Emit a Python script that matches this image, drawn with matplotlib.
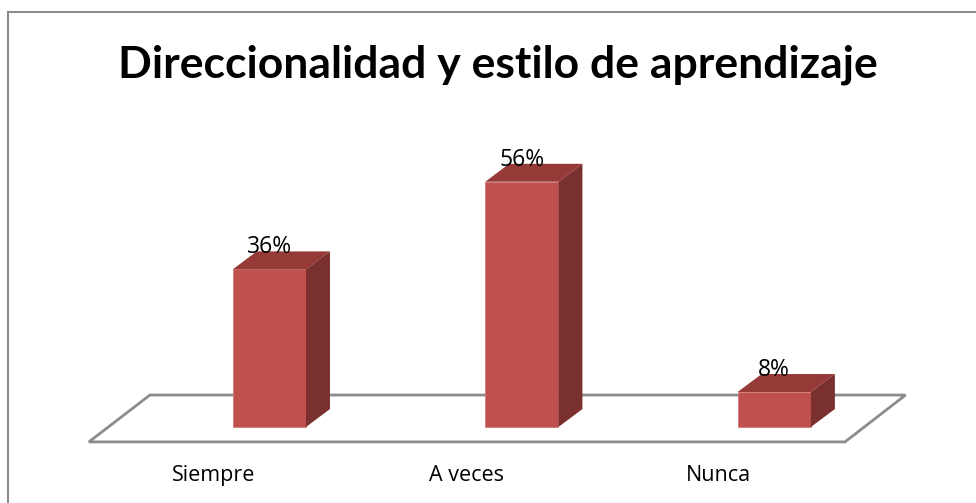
import matplotlib.pyplot as plt
from matplotlib.patches import Polygon, Rectangle

# Data
categories = ['Siempre', 'A veces', 'Nunca']
values = [36, 56, 8]
value_labels = ['36%', '56%', '8%']
title = 'Direccionalidad y estilo de aprendizaje'

# 3D look
front_col = '#C0504D'
top_col = '#953A37'
side_col = '#7A302E'
bar_w = 0.29
dx, dy = 0.095, 4.1  # depth offset in data units

fig = plt.figure(figsize=(9.76, 5.03), dpi=100)
ax = fig.add_axes([0, 0, 1, 1])
ax.set_xlim(-1.067, 2.799)
ax.set_ylim(-17.35, 97.5)
ax.axis('off')

# floor
floor = Polygon([(-0.715, -3.4), (-0.473, 7.3), (2.52, 7.3), (2.28, -3.4)],
                closed=True, facecolor='white', edgecolor='#8C8C8C', lw=2, zorder=1)
ax.add_patch(floor)

for i, v in enumerate(values):
    x0, x1 = i - bar_w / 2, i + bar_w / 2
    ax.add_patch(Rectangle((x0, 0), bar_w, v, facecolor=front_col,
                           edgecolor='#D27B78', lw=0.6, zorder=3))
    ax.add_patch(Polygon([(x0, v), (x0 + dx, v + dy), (x1 + dx, v + dy), (x1, v)],
                         closed=True, facecolor=top_col, edgecolor='none', zorder=3))
    ax.add_patch(Polygon([(x1, 0), (x1 + dx, dy), (x1 + dx, v + dy), (x1, v)],
                         closed=True, facecolor=side_col, edgecolor='none', zorder=3))
    ax.text(i, v + dy - 0.4, value_labels[i], ha='center', va='baseline',
            fontsize=16.5, family='Open Sans', zorder=4)
    ax.text(i - 0.22, -11.0, categories[i], ha='center', va='center',
            fontsize=15.5, family='Open Sans')

ax.text(0.51, 1 - 77 / 503, title, transform=ax.transAxes, ha='center', va='baseline',
        fontsize=32, fontweight='bold', family='Lato')

# outer frame (runs off the right and bottom edges)
fig.patches.append(Rectangle((8 / 976, -0.05), 1.2, 1 - 12 / 503 + 0.05,
                             transform=fig.transFigure, fill=False,
                             edgecolor='#8C8C8C', lw=1.5))

fig.savefig('out.png', dpi=100)
